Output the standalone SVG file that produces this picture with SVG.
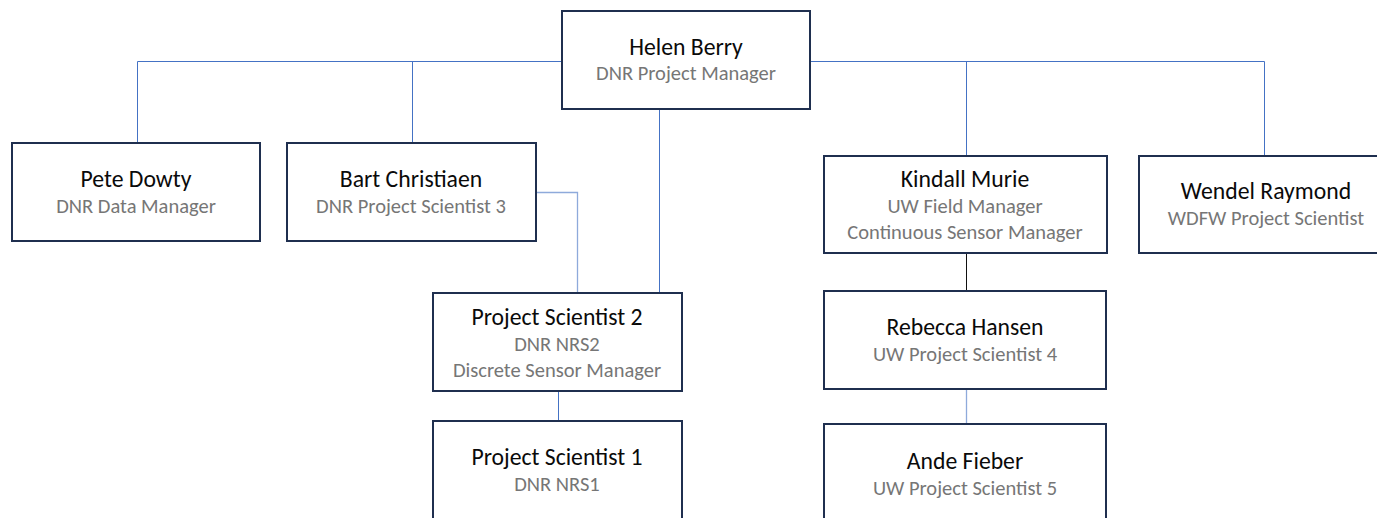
<svg xmlns="http://www.w3.org/2000/svg" width="1377" height="518" viewBox="0 0 1377 518">
<style>
.box{fill:#fff;stroke:#1f2f4f;stroke-width:2}
.n{font-family:Carlito,Lato,"Liberation Sans",sans-serif;font-size:23.7px;fill:#0a0a0a;text-anchor:middle}
.s{font-family:Carlito,Lato,"Liberation Sans",sans-serif;font-size:20.5px;fill:#767676;text-anchor:middle}
.c{fill:none;stroke:#4472c4;stroke-width:1}
.cl{fill:none;stroke:#8eaadb;stroke-width:1.3}
.ck{fill:none;stroke:#111;stroke-width:1}
</style>
<rect width="1377" height="518" fill="#fff"/>
<g id="connectors">
<path class="c" d="M137.5 143V61.5H1264.5V156"/>
<path class="c" d="M412.5 61V143"/>
<path class="c" d="M966.5 61V156"/>
<path class="c" d="M659.5 109V293"/>
<path class="cl" d="M536 192.5H577.5V293"/>
<path class="c" d="M558.5 391V421" stroke="#5b6f99"/>
<path class="ck" d="M966.5 253V291"/>
<path class="cl" d="M966.5 389V424"/>
</g>
<g id="helen"><rect class="box" x="562" y="11" width="248" height="98"/><text class="n" x="686" y="55">Helen Berry</text><text class="s" x="686" y="80">DNR Project Manager</text></g>
<g id="pete"><rect class="box" x="12" y="143" width="248" height="98"/><text class="n" x="136" y="187">Pete Dowty</text><text class="s" x="136" y="213">DNR Data Manager</text></g>
<g id="bart"><rect class="box" x="287" y="143" width="249" height="98"/><text class="n" x="411" y="187">Bart Christiaen</text><text class="s" x="411" y="213">DNR Project Scientist 3</text></g>
<g id="kindall"><rect class="box" x="824" y="156" width="283" height="97"/><text class="n" x="965" y="187">Kindall Murie</text><text class="s" x="965" y="213">UW Field Manager</text><text class="s" x="965" y="239">Continuous Sensor Manager</text></g>
<g id="wendel"><rect class="box" x="1139" y="156" width="252" height="97"/><text class="n" x="1266" y="199">Wendel Raymond</text><text class="s" x="1266" y="225">WDFW Project Scientist</text></g>
<g id="ps2"><rect class="box" x="433" y="293" width="249" height="98"/><text class="n" x="557" y="325">Project Scientist 2</text><text class="s" x="557" y="351">DNR NRS2</text><text class="s" x="557" y="377">Discrete Sensor Manager</text></g>
<g id="ps1"><rect class="box" x="433" y="421" width="249" height="110"/><text class="n" x="557" y="465">Project Scientist 1</text><text class="s" x="557" y="491">DNR NRS1</text></g>
<g id="rebecca"><rect class="box" x="824" y="291" width="282" height="98"/><text class="n" x="965" y="335">Rebecca Hansen</text><text class="s" x="965" y="361">UW Project Scientist 4</text></g>
<g id="ande"><rect class="box" x="824" y="424" width="282" height="110"/><text class="n" x="965" y="469">Ande Fieber</text><text class="s" x="965" y="495">UW Project Scientist 5</text></g>
</svg>
